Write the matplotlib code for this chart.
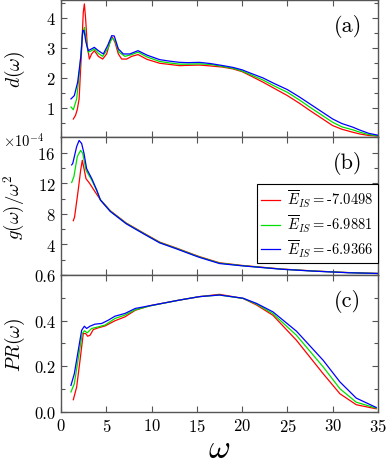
import matplotlib
matplotlib.use("Agg")
import matplotlib.pyplot as plt
from matplotlib.ticker import MultipleLocator, FixedLocator

plt.rcParams['font.family'] = 'serif'
plt.rcParams['font.serif'] = ['cmr10']
plt.rcParams['mathtext.fontset'] = 'cm'
plt.rcParams['axes.unicode_minus'] = False
plt.rcParams['axes.formatter.use_mathtext'] = True

labels = ['-7.0498', '-6.9881', '-6.9366']
colors = ['#ff0000', '#00e000', '#0000ff']

# Panel (a): d(omega)
a_red_x = [1.36, 1.6, 1.8, 2.0, 2.28, 2.46, 2.58, 2.72, 2.9, 3.13, 3.38, 3.68, 4.12, 4.6, 5.04, 5.4, 5.67,
           5.96, 6.33, 6.7, 7.25, 7.8, 8.5, 9.5, 10.9, 12, 13.1, 14, 15.3, 16.5, 17.9, 19, 20, 21, 22.3,
           23.5, 25, 26.3, 27.5, 28.8, 30, 31, 32.2, 33, 34, 35]
a_red_y = [0.63, 0.75, 0.95, 1.3, 2.97, 4.19, 4.47, 3.97, 3.08, 2.63, 2.8, 2.91, 2.72, 2.63, 2.8, 3.19, 3.36,
           3.19, 2.8, 2.63, 2.63, 2.72, 2.78, 2.62, 2.49, 2.45, 2.41, 2.42, 2.43, 2.40, 2.36, 2.30, 2.21, 2.06, 1.86,
           1.66, 1.41, 1.16, 0.91, 0.65, 0.41, 0.29, 0.19, 0.13, 0.08, 0.06]
a_green_x = [1.1, 1.36, 1.73, 2.1, 2.35, 2.58, 2.76, 3.0, 3.38, 3.68, 4.12, 4.6, 5.15, 5.6, 5.96, 6.4, 7.06,
             7.8, 8.5, 9.5, 10.9, 12, 13.1, 14, 15.3, 16.5, 17.9, 19, 20, 21, 22.3, 23.5, 25, 26.3, 27.5,
             28.8, 30, 31, 32.2, 33, 34, 35]
a_green_y = [1.03, 0.94, 1.3, 2.41, 3.41, 3.69, 3.3, 2.86, 2.91, 2.97, 2.82, 2.72, 2.97, 3.33, 3.25, 2.86, 2.72,
             2.78, 2.86, 2.70, 2.55, 2.50, 2.46, 2.46, 2.47, 2.45, 2.38, 2.32, 2.23, 2.10, 1.93, 1.74, 1.52, 1.27, 1.02,
             0.76, 0.52, 0.37, 0.27, 0.19, 0.11, 0.07]
a_blue_x = [1.1, 1.47, 1.84, 2.2, 2.4, 2.54, 2.76, 3.0, 3.38, 3.68, 4.12, 4.67, 5.15, 5.6, 5.88, 6.33, 6.88,
            7.6, 8.5, 9.5, 10.9, 12, 13.1, 14, 15.3, 16.5, 17.9, 19, 20, 21, 22.3, 23.5, 25, 26.3, 27.5,
            28.8, 30, 31, 32.2, 33, 34, 35]
a_blue_y = [1.3, 1.41, 1.86, 2.74, 3.58, 3.58, 3.19, 2.91, 2.97, 3.02, 2.91, 2.8, 3.08, 3.41, 3.4, 2.97, 2.8,
            2.8, 2.91, 2.76, 2.61, 2.56, 2.52, 2.51, 2.52, 2.48, 2.41, 2.35, 2.27, 2.15, 2.0, 1.82, 1.61, 1.37, 1.13,
            0.87, 0.63, 0.48, 0.36, 0.26, 0.15, 0.09]

# Panel (b): g(omega)/omega^2 in units of 1e-4
b_red_x = [1.36, 1.5, 1.9, 2.17, 2.35, 2.54, 2.76, 3.15, 3.75, 4.35, 5.45, 7.2, 9.1, 10.9, 12.8, 14.6,
           15.3, 17.5, 20, 24.4, 28, 31.7, 35]
b_red_y = [7.1, 7.6, 11.1, 13.7, 15.0, 13.9, 12.6, 12.0, 10.9, 9.85, 8.4, 6.8, 5.5, 4.3, 3.5, 2.7,
           2.4, 1.6, 1.25, 0.78, 0.52, 0.32, 0.2]
b_green_x = [1.18, 1.43, 1.8, 2.17, 2.4, 2.76, 3.4, 3.95, 4.35, 5.45, 7.2, 9.1, 10.9, 12.8, 14.6,
             15.3, 17.5, 20, 24.4, 28, 31.7, 35]
b_green_y = [12.1, 12.9, 15.5, 16.3, 15.9, 13.7, 12.4, 11.0, 9.85, 8.35, 6.75, 5.45, 4.25, 3.45, 2.65,
             2.35, 1.55, 1.22, 0.76, 0.51, 0.31, 0.2]
b_blue_x = [1.18, 1.3, 1.73, 2.0, 2.28, 2.54, 2.83, 3.4, 3.95, 4.35, 5.45, 7.2, 9.1, 10.9, 12.8, 14.6,
            15.3, 17.5, 20, 24.4, 28, 31.7, 35]
b_blue_y = [14.4, 14.6, 16.8, 17.6, 17.2, 15.9, 13.9, 12.6, 11.1, 9.8, 8.3, 6.7, 5.4, 4.2, 3.4, 2.6,
            2.3, 1.5, 1.2, 0.75, 0.5, 0.3, 0.2]

# Panel (c): PR(omega)
c_red_x = [1.36, 1.73, 2.1, 2.46, 2.72, 2.94, 3.2, 3.56, 4.12, 4.86, 5.96, 7.06, 8.2, 9.8, 13.1, 15.3,
           17.5, 20.1, 21.6, 23.4, 26, 28.95, 30.8, 32.6, 34.8]
c_red_y = [0.052, 0.108, 0.225, 0.343, 0.343, 0.331, 0.335, 0.36, 0.368, 0.376, 0.399, 0.416, 0.445, 0.465,
           0.49, 0.505, 0.515, 0.497, 0.468, 0.423, 0.313, 0.166, 0.078, 0.03, 0.012]
c_green_x = [1.1, 1.47, 1.99, 2.35, 2.58, 2.9, 3.38, 4.12, 4.86, 5.96, 7.06, 8.2, 9.8, 13.1, 15.3,
             17.5, 20.1, 21.6, 23.4, 26, 28.95, 30.8, 32.6, 34.8]
c_green_y = [0.086, 0.122, 0.254, 0.343, 0.355, 0.346, 0.365, 0.372, 0.38, 0.409, 0.424, 0.447, 0.464, 0.49,
             0.505, 0.512, 0.497, 0.472, 0.43, 0.335, 0.196, 0.1, 0.041, 0.015]
c_blue_x = [1.1, 1.47, 1.91, 2.28, 2.58, 2.83, 3.2, 3.75, 4.49, 5.2, 5.96, 7.06, 8.2, 9.8, 13.1, 15.3,
            17.5, 20.1, 21.6, 23.4, 26, 28.95, 30.8, 32.6, 34.8]
c_blue_y = [0.115, 0.166, 0.27, 0.357, 0.375, 0.365, 0.375, 0.384, 0.387, 0.401, 0.419, 0.431, 0.453, 0.465,
            0.49, 0.505, 0.512, 0.498, 0.475, 0.438, 0.353, 0.225, 0.13, 0.059, 0.018]

W, H = 387, 464
fig = plt.figure(figsize=(W / 100, H / 100), dpi=100)
left = 61 / W
width = (378 - 61) / W
edges = [1, 138, 276, 413]
axes = []
for i in range(3):
    top, bot = edges[i], edges[i + 1]
    ax = fig.add_axes([left, 1 - bot / H, width, (bot - top) / H])
    axes.append(ax)

spine_col = '#555555'
for ax in axes:
    ax.set_xlim(0, 35)
    ax.xaxis.set_major_locator(MultipleLocator(5))
    ax.tick_params(which='both', direction='in', top=True, right=True, color=spine_col, width=0.8)
    ax.tick_params(which='major', length=4, labelsize=12)
    ax.tick_params(which='minor', length=3)
    ax.tick_params(axis='y', labelsize=12, pad=4)
    for s in ax.spines.values():
        s.set_color(spine_col)
        s.set_linewidth(1.0)

lw = 0.9
axa, axb, axc = axes
for xs, ys, c in zip([a_red_x, a_green_x, a_blue_x], [a_red_y, a_green_y, a_blue_y], colors):
    axa.plot(xs, ys, color=c, lw=lw)
for xs, ys, c, lab in zip([b_red_x, b_green_x, b_blue_x], [b_red_y, b_green_y, b_blue_y], colors, labels):
    axb.plot(xs, ys, color=c, lw=lw, label=r'$\overline{E}_{IS}=$' + lab)
for xs, ys, c in zip([c_red_x, c_green_x, c_blue_x], [c_red_y, c_green_y, c_blue_y], colors):
    axc.plot(xs, ys, color=c, lw=lw)

axa.set_ylim(0.03, 4.6)
axa.yaxis.set_major_locator(FixedLocator([1, 2, 3, 4]))
axa.yaxis.set_minor_locator(MultipleLocator(0.5))
axb.set_ylim(0, 18.05)
axb.yaxis.set_major_locator(FixedLocator([4, 8, 12, 16]))
axb.yaxis.set_minor_locator(MultipleLocator(2))
axc.set_ylim(-0.002, 0.6)
axc.yaxis.set_major_locator(MultipleLocator(0.2))
axc.yaxis.set_minor_locator(MultipleLocator(0.1))
axc.yaxis.set_major_formatter(matplotlib.ticker.FormatStrFormatter('%.1f'))

axa.tick_params(labelbottom=False)
axb.tick_params(labelbottom=False)

axa.set_ylabel(r'$d(\omega)$', fontsize=14)
axb.set_ylabel(r'$g(\omega)/\omega^2$', fontsize=13.5)
axc.set_ylabel(r'$PR(\omega)$', fontsize=14)
axc.set_xlabel(r'$\omega$', fontsize=24, labelpad=0)
for ax in axes:
    ax.yaxis.set_label_coords(-0.108, 0.5)

fig.text(3 / W, 1 - 141 / H, r'$\times10^{-4}$', fontsize=10.5, ha='left', va='center')

for ax, t in zip(axes, ['(a)', '(b)', '(c)']):
    ax.text(0.905, 0.815, t, transform=ax.transAxes, fontsize=16, ha='center', va='center')

leg = axb.legend(loc='lower right', bbox_to_anchor=(1.0, 0.085), fontsize=10.5, frameon=True,
                 fancybox=False, edgecolor='black', framealpha=1, handlelength=1.3, handletextpad=0.5,
                 borderpad=0.3, labelspacing=0.25, borderaxespad=0)
leg.get_frame().set_linewidth(0.8)

fig.savefig('out.png', dpi=100)
